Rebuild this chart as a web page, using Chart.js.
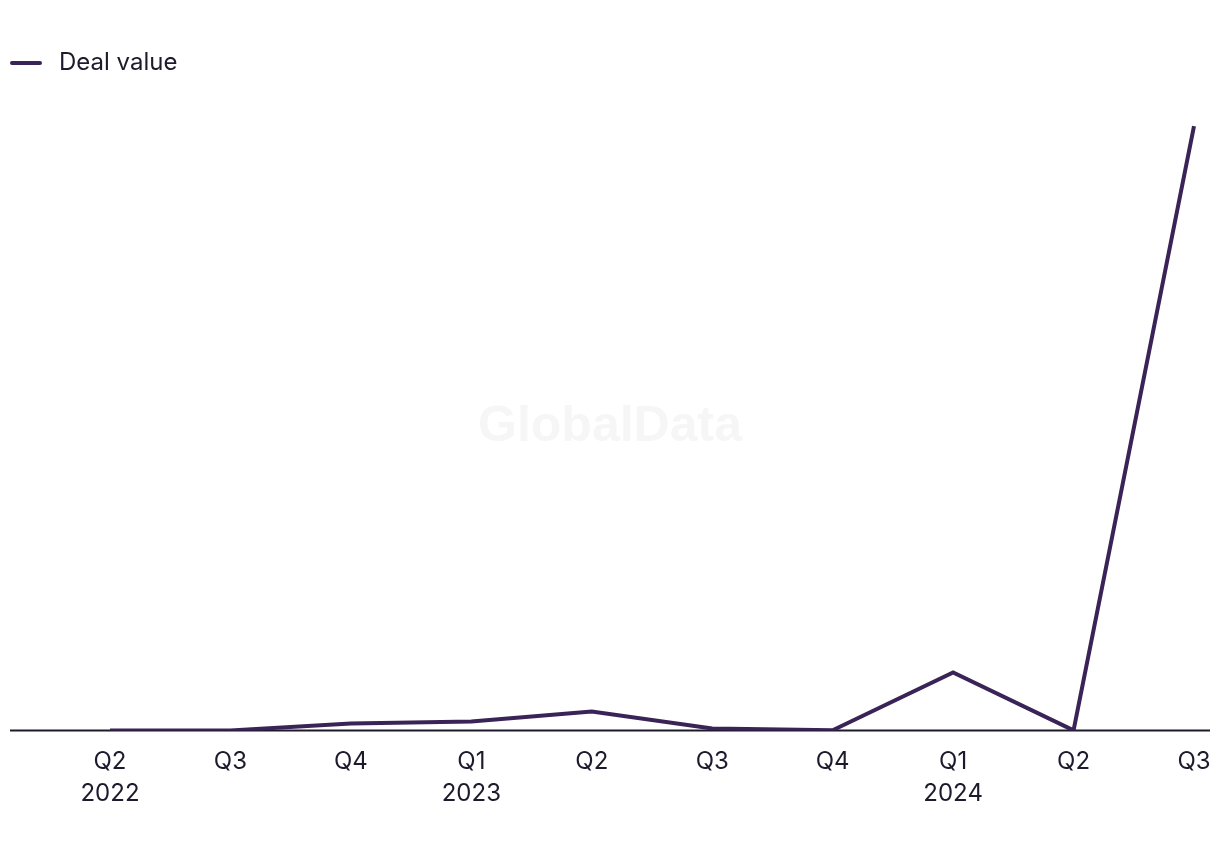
<!DOCTYPE html>
<html>
<head>
<meta charset="utf-8">
<script src="https://cdn.jsdelivr.net/npm/chart.js@4/dist/chart.umd.min.js"></script>
<style>
  html, body { margin: 0; padding: 0; background: #fff; }
  #wrap { width: 1220px; height: 850px; }
</style>
</head>
<body>
<div id="wrap"><canvas id="myChart" width="1220" height="850"></canvas></div>
<script>
// data
const quarters = [["Q2", "2022"], "Q3", "Q4", ["Q1", "2023"], "Q2", "Q3", "Q4", ["Q1", "2024"], "Q2", "Q3"];
const dealValue = [0, 0.2, 7, 9, 19, 2, 0.4, 58, 0.2, 602];
const lineColor = "#3a2356";
const textColor = "#1c1a2b";

// legend marker: short line drawn on a small canvas
const marker = document.createElement("canvas");
marker.width = 37;
marker.height = 8;
const mctx = marker.getContext("2d");
mctx.strokeStyle = lineColor;
mctx.lineWidth = 4;
mctx.lineCap = "round";
mctx.beginPath();
mctx.moveTo(2, 4);
mctx.lineTo(30, 4);
mctx.stroke();

// baseline + watermark
const extras = {
  id: "extras",
  beforeDatasetsDraw(chart) {
    const ctx = chart.ctx;
    ctx.save();
    ctx.fillStyle = "#f6f6f6";
    ctx.font = "bold 50px 'Liberation Sans', Arial, sans-serif";
    ctx.textAlign = "center";
    ctx.textBaseline = "middle";
    ctx.fillText("GlobalData", 610, 427);
    const y = chart.scales.y.getPixelForValue(0);
    ctx.strokeStyle = "#1d1a2c";
    ctx.lineWidth = 2;
    ctx.beginPath();
    ctx.moveTo(10, y);
    ctx.lineTo(1210, y);
    ctx.stroke();
    ctx.restore();
  }
};

var ctx = document.getElementById("myChart").getContext("2d");
var chart = new Chart(ctx, {
  type: "line",
  data: {
    labels: quarters,
    datasets: [
      {
        label: "Deal value",
        data: dealValue,
        borderColor: lineColor,
        backgroundColor: lineColor,
        borderWidth: 4,
        pointRadius: 0,
        tension: 0,
      },
    ],
  },
  options: {
    responsive: false,
    animation: false,
    layout: { padding: { top: 41, left: 0, right: 26, bottom: 33 } },
    plugins: {
      legend: {
        align: "start",
        labels: {
          usePointStyle: true,
          pointStyle: marker,
          pointStyleWidth: 37,
          padding: 10,
          color: textColor,
          font: { family: "Inter", size: 24 },
        },
      },
      tooltip: { enabled: false },
    },
    scales: {
      x: {
        offset: false,
        grid: { display: false },
        border: { display: false },
        ticks: {
          color: textColor,
          padding: 8,
          maxRotation: 0,
          autoSkip: false,
          font: { family: "Inter", size: 24, lineHeight: 1.3 },
        },
      },
      y: {
        min: 0,
        max: 643,
        grid: { display: false },
        border: { display: false },
        ticks: { display: false },
        afterFit(scale) { scale.width = 110; },
      },
    },
  },
  plugins: [extras],
});
</script>
</body>
</html>
